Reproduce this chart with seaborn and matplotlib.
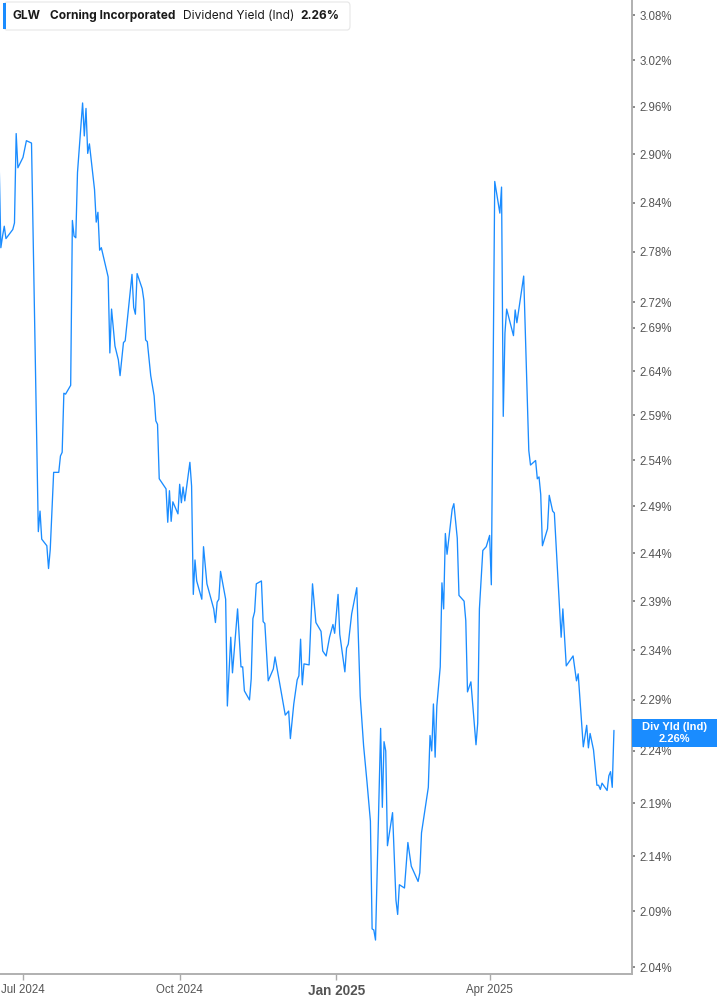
import numpy as np
import pandas as pd
import matplotlib
matplotlib.use("Agg")
import matplotlib.pyplot as plt
import matplotlib.dates as mdates
from matplotlib.patches import FancyBboxPatch, Rectangle
from matplotlib.ticker import FixedLocator, FixedFormatter, NullLocator
import seaborn as sns

# ---------------- data ----------------
start_date = "2024-07-01"
day_offsets = [
    -14, -13, -12, -11, -10, -6, -5, -4, -3, 0, 2, 5, 9, 10, 11, 14, 15, 16, 18, 21,
    22, 23, 24, 25, 28, 29, 30, 31, 32, 35, 36, 37, 38, 39, 42, 43, 44, 45, 46, 50,
    51, 52, 54, 56, 57, 59, 60, 64, 65, 66, 67, 70, 71, 72, 73, 75, 77, 78, 79, 80,
    84, 85, 86, 87, 88, 91, 92, 93, 94, 95, 98, 99, 100, 101, 102, 105, 106, 108, 112, 113,
    114, 115, 116, 119, 120, 122, 123, 126, 128, 129, 130, 133, 134, 135, 136, 137, 140, 141, 142, 144,
    147, 148, 154, 156, 157, 159, 161, 162, 163, 164, 165, 168, 170, 172, 175, 176, 178, 180, 182, 183,
    185, 186, 189, 190, 191, 193, 196, 198, 200, 202, 204, 205, 206, 207, 210, 211, 212, 213, 214, 217,
    219, 220, 221, 224, 226, 228, 232, 233, 234, 238, 239, 240, 241, 242, 243, 245, 246, 247, 248, 249,
    252, 253, 255, 256, 259, 260, 261, 263, 266, 267, 268, 270, 272, 274, 275, 277, 280, 281, 282, 283,
    284, 288, 289, 290, 294, 296, 297, 298, 301, 302, 303, 304, 305, 308, 309, 311, 312, 316, 317, 319,
    321, 323, 325, 326, 329, 331, 332, 333, 335, 337, 338, 339, 340, 343, 344, 345, 346, 347,
]
div_yield = [
    2.890, 2.785, 2.799, 2.811, 2.796, 2.807, 2.815, 2.926, 2.883, 2.896, 2.917, 2.914, 2.463, 2.485, 2.455, 2.448, 2.424, 2.444, 2.527, 2.527,
    2.545, 2.549, 2.615, 2.614, 2.624, 2.818, 2.799, 2.797, 2.877, 2.965, 2.923, 2.958, 2.901, 2.913, 2.856, 2.816, 2.828, 2.782, 2.785, 2.750,
    2.661, 2.712, 2.669, 2.653, 2.635, 2.673, 2.675, 2.753, 2.714, 2.706, 2.754, 2.736, 2.722, 2.676, 2.674, 2.635, 2.612, 2.584, 2.580, 2.520,
    2.509, 2.473, 2.507, 2.474, 2.495, 2.482, 2.514, 2.494, 2.511, 2.496, 2.538, 2.512, 2.397, 2.433, 2.411, 2.392, 2.447, 2.408, 2.382, 2.368,
    2.389, 2.392, 2.421, 2.392, 2.284, 2.353, 2.317, 2.382, 2.323, 2.323, 2.299, 2.290, 2.311, 2.372, 2.379, 2.408, 2.411, 2.369, 2.367, 2.309,
    2.321, 2.333, 2.275, 2.279, 2.252, 2.286, 2.310, 2.314, 2.351, 2.305, 2.326, 2.325, 2.408, 2.368, 2.359, 2.339, 2.334, 2.353, 2.366, 2.357,
    2.397, 2.356, 2.318, 2.342, 2.346, 2.377, 2.404, 2.294, 2.245, 2.210, 2.173, 2.074, 2.073, 2.064, 2.262, 2.186, 2.249, 2.240, 2.150, 2.181,
    2.100, 2.087, 2.114, 2.111, 2.153, 2.131, 2.117, 2.125, 2.162, 2.205, 2.255, 2.240, 2.286, 2.234, 2.284, 2.323, 2.409, 2.382, 2.461, 2.439,
    2.487, 2.493, 2.456, 2.396, 2.390, 2.370, 2.298, 2.308, 2.246, 2.267, 2.382, 2.443, 2.447, 2.459, 2.407, 2.866, 2.827, 2.859, 2.589, 2.684,
    2.712, 2.681, 2.711, 2.696, 2.751, 2.614, 2.551, 2.535, 2.540, 2.520, 2.522, 2.503, 2.448, 2.466, 2.502, 2.485, 2.483, 2.353, 2.382, 2.324,
    2.329, 2.334, 2.309, 2.316, 2.244, 2.265, 2.243, 2.257, 2.241, 2.207, 2.207, 2.203, 2.209, 2.202, 2.216, 2.220, 2.205, 2.260,
]
ytick_values = [3.08, 3.02, 2.96, 2.90, 2.84, 2.78, 2.72, 2.69, 2.64, 2.59, 2.54, 2.49,
                2.44, 2.39, 2.34, 2.29, 2.24, 2.19, 2.14, 2.09, 2.04]
xtick_dates = ["2024-07-01", "2024-10-01", "2025-01-01", "2025-04-01"]
xtick_labels = ["Jul 2024", "Oct 2024", "Jan 2025", "Apr 2025"]
ticker_symbol = "GLW"
company_name = "Corning Incorporated"
metric_name = "Dividend Yield (Ind)"
last_label = "Div Yld (Ind)"
last_value = div_yield[-1]

# ---------------- build ----------------
base = pd.Timestamp(start_date)
df = pd.DataFrame({
    "date": base + pd.to_timedelta(day_offsets, unit="D"),
    "yield": div_yield,
})

sns.set_style("white")
plt.rcParams["font.family"] = ["Liberation Sans", "DejaVu Sans"]

W, H = 717, 1005
fig = plt.figure(figsize=(W / 100, H / 100), dpi=100)
ax = fig.add_axes([0, 31 / H, 632 / W, 1 - 31 / H])

LINE = "#1a8cff"
sns.lineplot(data=df, x="date", y="yield", ax=ax, color=LINE, linewidth=0.95)

ax.set_yscale("log")
ax.set_ylim(2.0339, 3.1001)
ax.set_xlim(base - pd.Timedelta(days=13.5), base + pd.Timedelta(days=357.6))

ax.yaxis.tick_right()
ax.yaxis.set_major_locator(FixedLocator(ytick_values))
ax.yaxis.set_major_formatter(FixedFormatter([f"{v:.2f}%" for v in ytick_values]))
ax.yaxis.set_minor_locator(NullLocator())
ax.tick_params(axis="y", which="major", right=True, left=False, length=2.5, width=1.2,
               color="#777777", labelcolor="#555555", labelsize=8.3, pad=3)

ax.set_xticks(pd.to_datetime(xtick_dates))
ax.set_xticklabels(xtick_labels)
ax.tick_params(axis="x", which="major", bottom=True, length=4, width=1, color="#aaaaaa",
               labelcolor="#555555", labelsize=8.3, pad=3)
for lbl in ax.get_xticklabels():
    lbl.set_family(["Liberation Sans Narrow", "Liberation Sans", "DejaVu Sans"])
    if lbl.get_text() == "Jan 2025":
        lbl.set_fontweight("bold")
        lbl.set_fontsize(9.8)
ax.xaxis.set_minor_locator(NullLocator())

ax.set_xlabel("")
ax.set_ylabel("")
for side in ["left", "top"]:
    ax.spines[side].set_visible(False)
for side in ["right", "bottom"]:
    ax.spines[side].set_visible(True)
    ax.spines[side].set_color("#b0b0b0")
    ax.spines[side].set_linewidth(1.4)
ax.grid(False)

# ---------------- header legend box ----------------
def fx(px):
    return px / W

def fy(py):
    return 1 - py / H

hdr = FancyBboxPatch((fx(4), fy(30)), fx(346), 28 / H,
                     boxstyle="round,pad=0,rounding_size=0.004",
                     transform=fig.transFigure, facecolor="white",
                     edgecolor="#e6e6e6", linewidth=0.8, zorder=5)
fig.add_artist(hdr)
fig.add_artist(Rectangle((fx(3), fy(29)), fx(3), 26 / H, transform=fig.transFigure,
                         facecolor=LINE, edgecolor="none", zorder=6))
hfont = ["Inter", "DejaVu Sans"]
ty = fy(16)
fig.text(fx(13), ty, ticker_symbol, fontsize=8.6, fontweight="bold", color="#1a1a1a",
         va="center", ha="left", family=hfont, zorder=7)
fig.text(fx(50), ty, company_name, fontsize=8.6, fontweight="bold", color="#1a1a1a",
         va="center", ha="left", family=hfont, zorder=7)
fig.text(fx(183), ty, metric_name, fontsize=8.6, color="#1a1a1a",
         va="center", ha="left", family=hfont, zorder=7)
fig.text(fx(300), ty, f"{last_value:.2f}%", fontsize=8.6, fontweight="bold", color="#1a1a1a",
         va="center", ha="left", family=hfont, zorder=7)

# ---------------- last value tag ----------------
fig.add_artist(Rectangle((fx(632), fy(747)), fx(85), 28 / H, transform=fig.transFigure,
                         facecolor=LINE, edgecolor="none", zorder=6))
fig.text(fx(674), fy(726.5), last_label, fontsize=8, fontweight="bold", color="white",
         va="center", ha="center", zorder=7)
fig.text(fx(674), fy(739.5), f"{last_value:.2f}%", fontsize=8, fontweight="bold", color="white",
         va="center", ha="center", zorder=7)

fig.savefig("out.png", dpi=100)
